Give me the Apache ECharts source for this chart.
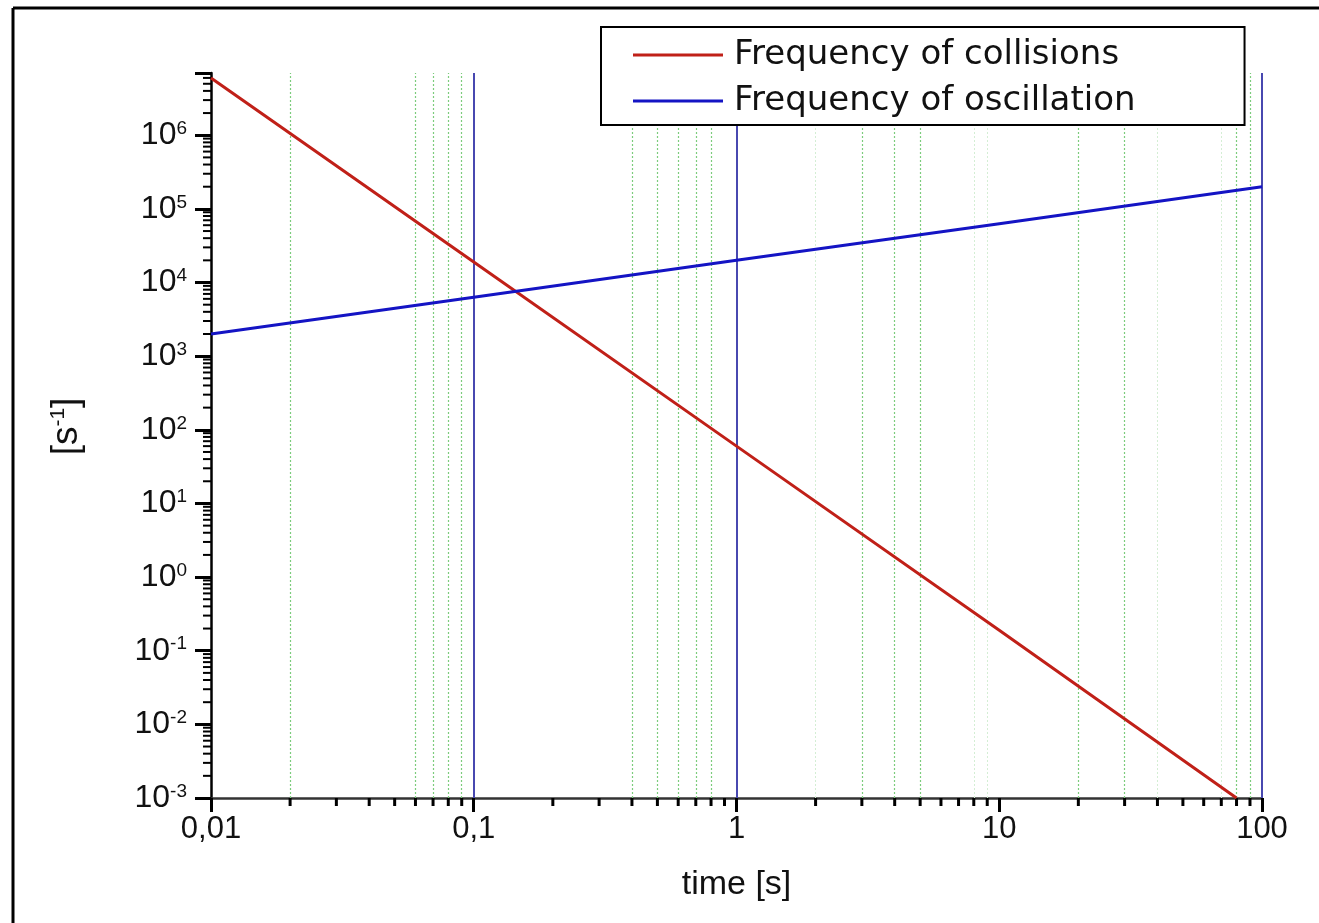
<!DOCTYPE html>
<html>
<head>
<meta charset="utf-8" />
<script src="https://cdn.jsdelivr.net/npm/echarts@6/dist/echarts.min.js"></script>
<style>
  html, body { margin: 0; padding: 0; background: #fff; }
  #main { width: 1319px; height: 923px; }
</style>
</head>
<body>
<div id="main"></div>
<script type="text/javascript">
    // values (log-log)
    var collisionTime = [0.01, 0.1, 1, 10, 80];
    var collisionFreq = [6e6, 1.9e4, 60, 0.19, 0.001];
    var oscillationTime = [0.01, 0.1, 1, 10, 100];
    var oscillationFreq = [2000, 6300, 2e4, 6.3e4, 2e5];

    var X_MIN = 0.01, X_MAX = 100;
    var Y_MIN = 0.001, Y_MAX = 7e6;

    // vertical guide lines seen in the plot
    var blueLines = [0.1, 1, 100];
    var greenLines = [0.02, 0.06, 0.07, 0.08, 0.09, 0.4, 0.5, 0.6, 0.7, 0.8, 3, 4, 5, 20, 30, 80, 90];
    var faintGreenLines = [2, 8, 9, 40, 70];

    // minor tick positions (2..9 per decade)
    var xMinor = [];
    [0.01, 0.1, 1, 10].forEach(function (d) {
        for (var k = 2; k <= 9; k++) xMinor.push(+(d * k).toPrecision(3));
    });
    var yMinor = [];
    [1e-3, 1e-2, 1e-1, 1, 10, 100, 1e3, 1e4, 1e5, 1e6].forEach(function (d) {
        for (var k = 2; k <= 9; k++) {
            var v = +(d * k).toPrecision(3);
            if (v <= Y_MAX) yMinor.push(v);
        }
    });

    function zip(a, b) {
        return a.map(function (v, i) { return [v, b[i]]; });
    }

    var marks = [];
    blueLines.forEach(function (v) {
        marks.push({ xAxis: v, lineStyle: { color: '#4848b0', width: 2, type: 'solid' } });
    });
    greenLines.forEach(function (v) {
        marks.push({ xAxis: v, lineStyle: { color: '#7ccc7c', width: 1.2, type: [2, 2] } });
    });
    faintGreenLines.forEach(function (v) {
        marks.push({ xAxis: v, lineStyle: { color: '#d4eed4', width: 1, type: [2, 2] } });
    });

    var chart = echarts.init(document.getElementById('main'));
    var option = {
        animation: false,
        backgroundColor: '#fff',
        graphic: [
            { type: 'line', shape: { x1: 13, y1: 8, x2: 1319, y2: 8 }, style: { stroke: '#000', lineWidth: 3 } },
            { type: 'line', shape: { x1: 13, y1: 8, x2: 13, y2: 923 }, style: { stroke: '#000', lineWidth: 3 } }
        ],
        grid: { left: 211, right: 57, top: 73, bottom: 125 },
        legend: {
            z: 20,
            data: [
                { name: 'Frequency of collisions', icon: 'rect' },
                { name: 'Frequency of oscillation', icon: 'rect' }
            ],
            orient: 'vertical',
            left: 601,
            top: 27,
            itemWidth: 90,
            itemHeight: 3,
            itemGap: 12,
            padding: [11, 109, 7, 32],
            borderColor: '#000',
            borderWidth: 2,
            backgroundColor: '#fff',
            textStyle: { fontFamily: 'DejaVu Sans', fontSize: 34, color: '#111', padding: [0, 0, 0, 6] }
        },
        xAxis: {
            type: 'log',
            logBase: 10,
            min: X_MIN,
            max: X_MAX,
            interval: 1,
            name: 'time [s]',
            nameLocation: 'middle',
            nameGap: 70,
            nameTextStyle: { fontFamily: 'Liberation Sans', fontSize: 34, color: '#111' },
            axisLine: { onZero: false, lineStyle: { color: '#333', width: 2.5 } },
            axisTick: { show: true, length: 14, lineStyle: { color: '#000', width: 3 } },
            axisLabel: {
                margin: 16,
                fontFamily: 'Liberation Sans',
                fontSize: 31,
                color: '#111',
                formatter: function (v) {
                    var e = Math.round(Math.log10(v));
                    var s = e < 0 ? Math.pow(10, e).toFixed(-e) : String(Math.pow(10, e));
                    return s.replace('.', ',');
                }
            },
            splitLine: { show: false }
        },
        yAxis: {
            type: 'log',
            logBase: 10,
            min: Y_MIN,
            max: Y_MAX,
            interval: 1,
            name: '[s{sup|-1}]',
            nameLocation: 'middle',
            nameGap: 126,
            nameRotate: 90,
            nameTextStyle: {
                fontFamily: 'Liberation Sans', fontSize: 37, color: '#111',
                padding: [0, 0, 0, 18],
                rich: { sup: { fontFamily: 'Liberation Sans', fontSize: 21, verticalAlign: 'top', color: '#111' } }
            },
            axisLine: { onZero: false, lineStyle: { color: '#000', width: 2.5 } },
            axisTick: { show: true, length: 16, lineStyle: { color: '#000', width: 3 } },
            axisLabel: {
                margin: 24,
                color: '#111',
                formatter: function (v) {
                    var l = Math.log10(v);
                    var e = Math.round(l);
                    if (Math.abs(l - e) > 1e-6) return '';
                    return '{b|10}{s|' + e + '}';
                },
                rich: {
                    b: { fontFamily: 'Liberation Sans', fontSize: 32, color: '#111', lineHeight: 32 },
                    s: { fontFamily: 'Liberation Sans', fontSize: 19, color: '#111', verticalAlign: 'top', lineHeight: 32 }
                }
            },
            splitLine: { show: false }
        },
        series: [
            {
                name: 'Frequency of collisions',
                type: 'line',
                data: zip(collisionTime, collisionFreq),
                showSymbol: false,
                color: '#c02018',
                lineStyle: { color: '#c02018', width: 3 },
                z: 5,
                markLine: {
                    silent: true,
                    symbol: 'none',
                    label: { show: false },
                    data: marks
                }
            },
            {
                name: 'Frequency of oscillation',
                type: 'line',
                data: zip(oscillationTime, oscillationFreq),
                showSymbol: false,
                color: '#1414c4',
                lineStyle: { color: '#1414c4', width: 3 },
                z: 5
            },
            {
                name: 'xMinorTicks',
                type: 'custom',
                silent: true,
                clip: false,
                data: xMinor.map(function (v) { return [v, Y_MIN]; }),
                renderItem: function (params, api) {
                    var p = api.coord([api.value(0), Y_MIN]);
                    return {
                        type: 'line',
                        shape: { x1: p[0], y1: p[1], x2: p[0], y2: p[1] + 8 },
                        style: { stroke: '#000', lineWidth: 3 }
                    };
                }
            },
            {
                name: 'yMinorTicks',
                type: 'custom',
                silent: true,
                clip: false,
                data: yMinor.map(function (v) { return [X_MIN, v]; }),
                renderItem: function (params, api) {
                    var p = api.coord([X_MIN, api.value(1)]);
                    return {
                        type: 'line',
                        shape: { x1: p[0], y1: p[1], x2: p[0] - 8, y2: p[1] },
                        style: { stroke: '#000', lineWidth: 2 }
                    };
                }
            }
        ]
    };
    chart.setOption(option);
</script>
</body>
</html>
